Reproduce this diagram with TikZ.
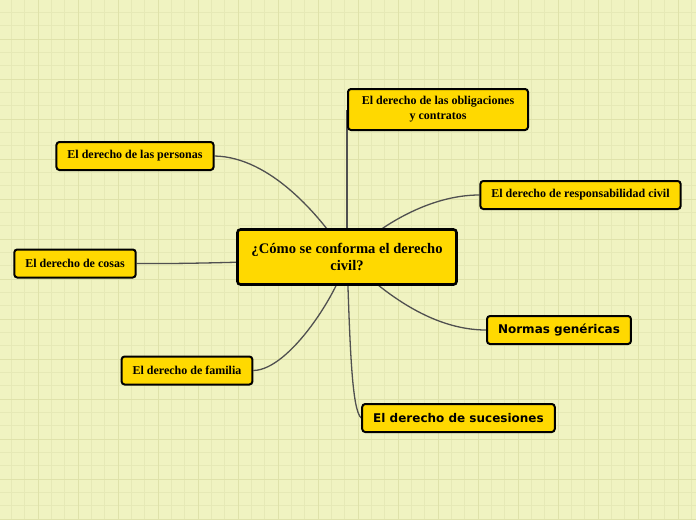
\documentclass[tikz,border=0pt]{standalone}
\usepackage{fontspec}
\setmainfont{Liberation Serif}
\newfontfamily\sansb{DejaVu Sans}
\usetikzlibrary{backgrounds}
\definecolor{fondo}{RGB}{240,243,193}
\definecolor{rejilla}{RGB}{230,233,182}
\definecolor{rejillaf}{RGB}{223,226,170}
\definecolor{oro}{RGB}{255,217,0}
\definecolor{enlace}{RGB}{80,80,80}
\begin{document}
\begin{tikzpicture}[x=1pt,y=-1pt]
\tikzstyle{tema}=[draw=black, fill=oro, line width=2.6pt, rounded corners=3pt, align=center, minimum width=219pt, minimum height=55pt, font=\fontsize{14.6}{17}\selectfont\bfseries]
\tikzstyle{ramo}=[draw=black, fill=oro, line width=2pt, rounded corners=3pt, align=center, inner xsep=11pt, minimum height=28pt, font=\fontsize{12}{15}\selectfont\bfseries]
\tikzstyle{ramosans}=[ramo, font=\sansb\fontsize{12}{15}\selectfont\bfseries]
\tikzstyle{linea}=[draw=enlace, line width=1.3pt]
\useasboundingbox (0,0) rectangle (696,520);
\node[tema] (centro) at (347,257) {¿Cómo se conforma el derecho\\civil?};
\node[ramo, minimum width=180pt, minimum height=41pt] (obl) at (438,109.5) {El derecho de las obligaciones\\y contratos};
\node[ramo] (resp) at (580.5,195) {El derecho de responsabilidad civil};
\node[ramo] (pers) at (135,156) {El derecho de las personas};
\node[ramo] (cosas) at (75,263.5) {El derecho de cosas};
\node[ramo] (fam) at (187,370.5) {El derecho de familia};
\node[ramosans] (normas) at (559,330) {Normas genéricas};
\node[ramosans] (suc) at (458.5,418) {El derecho de sucesiones};
\begin{scope}[on background layer]
\fill[fondo] (0,0) rectangle (696,520);
% rejilla
\foreach \i in {0,...,52}
  \draw[rejilla, line width=1pt] (11.6+13.333*\i,0) -- (11.6+13.333*\i,520);
\foreach \i in {0,...,38}
  \draw[rejilla, line width=1pt] (0,12.6+13.333*\i) -- (696,12.6+13.333*\i);
\foreach \i in {0,...,16}
  \draw[rejillaf, line width=1.2pt] (38.3+40*\i,0) -- (38.3+40*\i,520);
\foreach \i in {0,...,12}
  \draw[rejillaf, line width=1.2pt] (0,39.3+40*\i) -- (696,39.3+40*\i);
% enlaces
\draw[linea] (centro.center) .. controls (347,200) and (347,112) .. (obl.west);
\draw[linea] (centro.center) .. controls (380,225) and (430,195) .. (resp.west);
\draw[linea] (centro.center) .. controls (320,215) and (270,157) .. (pers.east);
\draw[linea] (centro.center) .. controls (280,262) and (180,264) .. (cosas.east);
\draw[linea] (centro.center) .. controls (340,290) and (290,370) .. (fam.east);
\draw[linea] (centro.center) .. controls (380,290) and (430,330) .. (normas.west);
\draw[linea] (centro.center) .. controls (350,350) and (352,410) .. (suc.west);
\end{scope}
\end{tikzpicture}
\end{document}
